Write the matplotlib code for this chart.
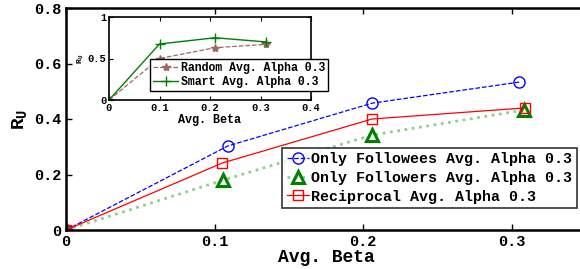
import matplotlib
matplotlib.use("Agg")
import matplotlib.pyplot as plt

beta_followees = [0, 0.109, 0.206, 0.305]
ru_followees = [0, 0.303, 0.457, 0.533]
beta_followers = [0, 0.106, 0.206, 0.308]
ru_followers = [0, 0.18, 0.342, 0.432]
beta_recip = [0, 0.105, 0.206, 0.309]
ru_recip = [0, 0.241, 0.40, 0.44]

beta_random = [0, 0.1, 0.21, 0.31]
ru_random = [0, 0.50, 0.63, 0.67]
beta_smart = [0, 0.1, 0.21, 0.31]
ru_smart = [0, 0.675, 0.75, 0.70]

main_xticks = [0, 0.1, 0.2, 0.3]
main_yticks = [0, 0.2, 0.4, 0.6, 0.8]
inset_xticks = [0, 0.1, 0.2, 0.3, 0.4]
inset_yticks = [0, 0.5, 1]

plt.rcParams['font.family'] = ['Liberation Mono', 'DejaVu Sans Mono']
plt.rcParams['font.weight'] = 'bold'

fig = plt.figure(figsize=(5.8, 2.69), dpi=100)
ax = fig.add_axes([66/580, 39/269, 520/580, 222/269])
ax.plot(beta_followees, ru_followees, '--', color='blue', marker='o', mfc='none', mec='blue',
        ms=8, lw=0.9, label='Only Followees Avg. Alpha 0.3')
ax.plot(beta_followers, ru_followers, ':', color='#8fcf8f', lw=2.0, marker='^', mfc='none',
        mec='green', mew=2.2, ms=9, label='Only Followers Avg. Alpha 0.3')
ax.plot(beta_recip, ru_recip, '-', color='red', marker='s', mfc='none', mec='red', ms=7,
        lw=0.9, label='Reciprocal Avg. Alpha 0.3')
ax.set_xlim(0, 0.35)
ax.set_ylim(0, 0.8)
ax.set_xticks(main_xticks)
ax.set_xticklabels(['0', '0.1', '0.2', '0.3'])
ax.set_yticks(main_yticks)
ax.set_yticklabels(['0', '0.2', '0.4', '0.6', '0.8'])
ax.tick_params(direction='in', top=True, right=True, labelsize=11, width=1, length=4)
for s in ax.spines.values():
    s.set_linewidth(1.8)
ax.set_xlabel('Avg. Beta', fontsize=13, fontweight='bold', labelpad=0)
ax.set_ylabel('R$_\\mathregular{U}$', fontsize=14, fontweight='bold', labelpad=3)
leg = ax.legend(loc='upper left', bbox_to_anchor=(216/520, 1 - 140/222), fontsize=10.8,
                frameon=True, fancybox=False, edgecolor='black', borderpad=0.3,
                labelspacing=0.3, handlelength=1.5, handletextpad=0.15, borderaxespad=0)
leg.get_frame().set_linewidth(1.2)

ins = fig.add_axes([109/580, (269-100)/269, 202/580, 83/269])
ins.plot(beta_random, ru_random, '--', color='#a0655f', marker='*', ms=6, lw=0.9,
         label='Random Avg. Alpha 0.3')
ins.plot(beta_smart, ru_smart, '-', color='green', marker='+', ms=7, lw=1.0,
         label='Smart Avg. Alpha 0.3')
ins.set_xlim(0, 0.4)
ins.set_ylim(0, 1)
ins.set_xticks(inset_xticks)
ins.set_xticklabels(['0', '0.1', '0.2', '0.3', '0.4'])
ins.set_yticks(inset_yticks)
ins.set_yticklabels(['0', '0.5', '1'])
ins.tick_params(direction='in', top=True, right=True, labelsize=7.5, length=3, pad=2)
for s in ins.spines.values():
    s.set_linewidth(1.2)
ins.set_xlabel('Avg. Beta', fontsize=8.5, fontweight='bold', labelpad=1)
ins.set_ylabel('R$_\\mathregular{U}$', fontsize=6, fontweight='bold', labelpad=1)
leg2 = ins.legend(loc='upper left', bbox_to_anchor=(41/202, 1 - 42/83), fontsize=8.3,
                  frameon=True, fancybox=False, edgecolor='black', borderpad=0.25,
                  labelspacing=0.2, handlelength=2.2, handletextpad=0.2, borderaxespad=0,
                  framealpha=1)
leg2.get_frame().set_linewidth(1.0)

fig.savefig('out.png', dpi=100)
